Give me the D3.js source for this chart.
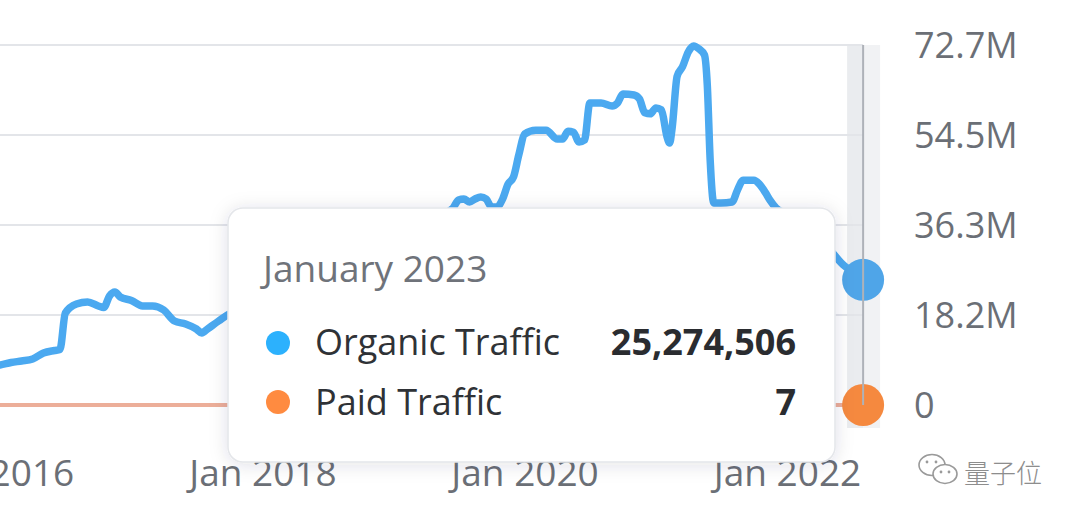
<!DOCTYPE html>
<html><head><meta charset="utf-8">
<script src="https://cdn.jsdelivr.net/npm/d3@7"></script>
<style>
html,body{margin:0;padding:0;background:#fff;}
svg{display:block;font-family:"Open Sans",sans-serif;}
</style></head><body>
<svg id="chart" width="1080" height="517"></svg>
<script>
// ---- data (organic traffic in millions) ----
const organicDates = [
"2015-12-01","2016-01-01","2016-02-01","2016-03-01","2016-04-01","2016-05-01","2016-06-01","2016-06-16",
"2016-07-01","2016-08-01","2016-09-01","2016-10-01","2016-10-16","2016-11-01","2016-11-16","2016-12-01",
"2017-01-01","2017-02-01","2017-03-01","2017-04-01","2017-05-01","2017-06-01","2017-07-01","2017-07-16",
"2017-08-01","2017-09-01","2017-10-01","2017-11-01","2017-12-01","2018-01-01","2018-02-01","2018-03-01",
"2018-04-01","2018-05-01","2018-06-01","2018-07-01","2018-08-01","2018-09-01","2018-10-01","2018-11-01",
"2018-12-01","2019-01-01","2019-02-01","2019-03-01","2019-04-01","2019-05-01","2019-06-01","2019-06-16",
"2019-07-01","2019-07-16","2019-08-01","2019-08-16","2019-09-01","2019-09-16","2019-10-01","2019-10-16",
"2019-11-01","2019-11-16","2019-12-01","2019-12-16","2020-01-01","2020-02-01","2020-03-01","2020-04-01",
"2020-04-16","2020-05-01","2020-05-16","2020-06-01","2020-06-16","2020-07-01","2020-08-01","2020-09-01",
"2020-09-16","2020-10-01","2020-11-01","2020-11-16","2020-12-01","2020-12-16","2021-01-01","2021-01-16",
"2021-02-01","2021-02-08","2021-02-15","2021-03-01","2021-03-16","2021-04-01","2021-04-16","2021-05-01",
"2021-05-16","2021-05-24","2021-06-01","2021-06-11","2021-07-01","2021-08-01","2021-08-16","2021-09-01",
"2021-10-01","2021-10-16","2021-11-01","2021-11-16","2021-12-01","2022-01-01","2022-02-01","2022-03-01",
"2022-04-01","2022-05-01","2022-06-01","2022-07-01","2022-08-01"
];
const organicMillions = [
7.88, 8.08, 8.58, 8.89, 9.29, 10.50, 11.01, 11.21,
18.58, 20.40, 20.80, 19.99, 19.69, 22.01, 22.82, 21.81,
21.10, 19.99, 19.99, 19.18, 16.96, 16.36, 15.35, 14.54,
15.35, 16.96, 18.38, 18.8, 19.6, 21.0, 22.3, 23.5,
23.8, 25.0, 26.2, 27.0, 28.4, 29.6, 30.5, 31.8,
32.6, 33.9, 35.0, 36.1, 37.2, 38.3, 39.0, 39.8,
41.4, 41.6, 41.0, 41.6, 42.0, 41.6, 40.0, 40.0,
41.6, 44.6, 46.0, 50.5, 54.7, 55.5, 55.5, 53.7,
53.7, 55.3, 55.1, 53.1, 53.5, 61.0, 61.0, 60.4,
61.0, 62.8, 62.6, 61.8, 59.0, 58.8, 60.0, 59.6,
54.1, 52.9, 55.9, 66.4, 68.3, 71.3, 72.5, 71.9,
70.7, 64.6, 49.5, 40.8, 40.8, 41.0, 43.4, 45.4,
45.4, 44.6, 43.0, 41.2, 39.8, 38.4, 36.3, 34.9,
33.3, 31.3, 28.7, 26.9, 25.274506
];
const paidDates = ["2015-12-01","2017-01-01","2018-01-01","2019-01-01","2020-01-01","2021-01-01","2022-01-01","2022-08-01"];
const paidValues = [0, 0, 0, 0, 0, 0, 0, 7];

const yTickValues = [0, 18.175, 36.35, 54.525, 72.7];
const yTickLabels = ["0", "18.2M", "36.3M", "54.5M", "72.7M"];
const xTickDates = ["2016-01-01", "2018-01-01", "2020-01-01", "2022-01-01"];
const xTickLabels = ["Jan 2016", "Jan 2018", "Jan 2020", "Jan 2022"];
const tooltipTitle = "January 2023";
const seriesNames = ["Organic Traffic", "Paid Traffic"];

// ---- setup ----
const parse = d3.timeParse("%Y-%m-%d");
const organic = organicDates.map((d, i) => ({date: parse(d), v: organicMillions[i]}));
const paid = paidDates.map((d, i) => ({date: parse(d), v: paidValues[i] / 1e6}));

const svg = d3.select("#chart");
const x = d3.scaleTime().domain([parse("2016-01-01"), parse("2022-01-01")]).range([0, 787]);
const y = d3.scaleLinear().domain([0, 72.7]).range([405, 45]);

const last = organic[organic.length - 1];
const lastPaid = paid[paid.length - 1];
const hx = x(last.date);

const defs = svg.append("defs");
const f = defs.append("filter").attr("id", "shadow").attr("x", "-20%").attr("y", "-30%").attr("width", "140%").attr("height", "160%");
f.append("feDropShadow").attr("dx", 0).attr("dy", 2).attr("stdDeviation", 9)
  .attr("flood-color", "#20304a").attr("flood-opacity", 0.13);

// hover band
svg.append("rect").attr("x", hx - 16).attr("y", y(72.7)).attr("width", 16).attr("height", 383).attr("fill", "#eaecef");
svg.append("rect").attr("x", hx).attr("y", y(72.7)).attr("width", 17).attr("height", 383).attr("fill", "#f1f2f4");

// gridlines
svg.append("g").selectAll("line").data(yTickValues).join("line")
  .attr("x1", 0).attr("x2", hx).attr("y1", d => y(d)).attr("y2", d => y(d))
  .attr("stroke", "#e3e5e9").attr("stroke-width", 2);

// y axis labels
const yAxis = svg.append("g").attr("transform", "translate(914,0)")
  .call(d3.axisRight(y).tickValues(yTickValues).tickFormat((d, i) => yTickLabels[i]).tickSize(0).tickPadding(0));
yAxis.select(".domain").remove();
yAxis.selectAll("text").attr("font-family", "'Open Sans', sans-serif").attr("font-size", 36)
  .attr("fill", "#6b6f76").attr("dy", "0.36em");

// x axis labels
const xAxis = svg.append("g").attr("transform", "translate(0,486)")
  .call(d3.axisBottom(x).tickValues(xTickDates.map(parse)).tickFormat((d, i) => xTickLabels[i]).tickSize(0).tickPadding(0));
xAxis.select(".domain").remove();
xAxis.selectAll("text").attr("font-family", "'Open Sans', sans-serif").attr("font-size", 37)
  .attr("fill", "#6b6f76").attr("y", 0).attr("dy", 0);

// lines
const line = d3.line().x(d => x(d.date)).y(d => y(d.v)).curve(d3.curveMonotoneX);
svg.append("path").datum(paid).attr("d", line).attr("fill", "none")
  .attr("stroke", "#ecae99").attr("stroke-width", 4);
svg.append("path").datum(organic).attr("d", line).attr("fill", "none")
  .attr("stroke", "#4ba9f0").attr("stroke-width", 7.5)
  .attr("stroke-linejoin", "round").attr("stroke-linecap", "round");

// hover dots
svg.append("circle").attr("cx", hx).attr("cy", y(last.v)).attr("r", 21).attr("fill", "#4fa5e8");
svg.append("circle").attr("cx", hx).attr("cy", y(lastPaid.v)).attr("r", 21).attr("fill", "#f5893f");
svg.append("line").attr("x1", hx).attr("x2", hx).attr("y1", y(72.7)).attr("y2", y(0))
  .attr("stroke", "#aeb2b8").attr("stroke-width", 2);

// tooltip
const tip = svg.append("g");
tip.append("rect").attr("x", 228).attr("y", 208).attr("width", 607).attr("height", 254).attr("rx", 15)
  .attr("fill", "#fff").attr("stroke", "#e4e6ea").attr("stroke-width", 1.5).attr("filter", "url(#shadow)");
tip.append("text").attr("x", 263).attr("y", 282).attr("font-size", 37).attr("fill", "#6f737a").text(tooltipTitle);
const rows = [
  {name: seriesNames[0], value: d3.format(",")(Math.round(last.v * 1e6)), color: "#2cb1fd", yb: 355, cy: 343},
  {name: seriesNames[1], value: d3.format(",")(Math.round(lastPaid.v * 1e6)), color: "#ff8b40", yb: 415, cy: 402}
];
rows.forEach(r => {
  tip.append("circle").attr("cx", 278).attr("cy", r.cy).attr("r", 12).attr("fill", r.color);
  tip.append("text").attr("x", 315).attr("y", r.yb).attr("font-size", 36).attr("fill", "#2f3236").text(r.name);
  tip.append("text").attr("x", 796).attr("y", r.yb).attr("font-size", 36).attr("font-weight", 700)
    .attr("text-anchor", "end").attr("fill", "#2a2c30").text(r.value);
});

// watermark
const wm = svg.append("g").attr("fill", "none").attr("stroke", "#9a9a9a").attr("stroke-width", 1.6);
wm.append("ellipse").attr("cx", 932).attr("cy", 465).attr("rx", 13).attr("ry", 10.5).attr("fill", "#fff");
wm.append("ellipse").attr("cx", 945).attr("cy", 474).attr("rx", 12).attr("ry", 9.5).attr("fill", "#fff");
[[927,462],[936,462],[941,472],[949,472]].forEach(p =>
  svg.append("circle").attr("cx", p[0]).attr("cy", p[1]).attr("r", 1.4).attr("fill", "#9a9a9a"));
svg.append("text").attr("x", 964).attr("y", 483).attr("font-family", "'Noto Sans CJK SC', sans-serif")
  .attr("font-size", 26).attr("fill", "#8d8d8d").attr("font-weight", 300).text("量子位");
</script>
</body></html>
